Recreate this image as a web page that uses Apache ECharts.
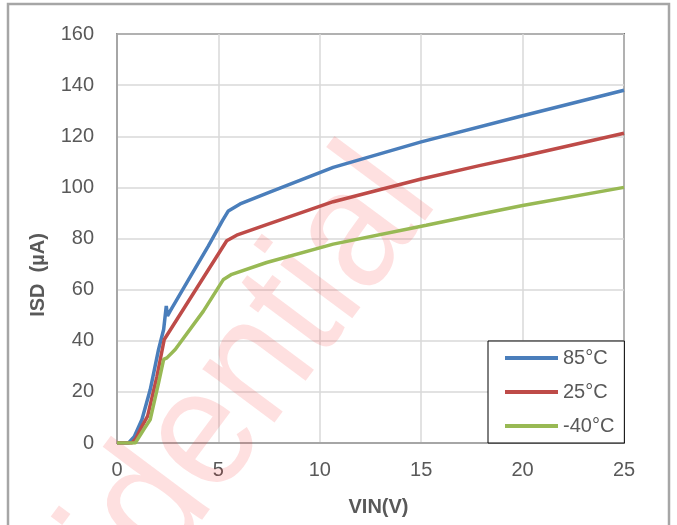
<!DOCTYPE html>
<html>
<head>
<meta charset="utf-8">
<script src="https://cdn.jsdelivr.net/npm/echarts@6/dist/echarts.min.js"></script>
<style>html,body{margin:0;padding:0;background:#fff;}#chart{width:677px;height:525px;}</style>
</head>
<body>
<div id="chart"></div>
<script>
// Series: VIN (V) and ISD (µA)
var vin85  = [0, 0.57, 0.85, 1.23, 1.64, 2.05, 2.3, 2.43, 2.49, 2.62, 3.5, 4.5, 5.2, 5.49, 6.07, 7.5, 10.66, 15, 20, 25];
var isd85  = [0, 0, 2.5, 9.2, 20.9, 36.6, 44.4, 53.6, 49.7, 51.6, 63.5, 77, 87, 90.8, 93.5, 98, 107.8, 117.8, 128, 138];
var vin25  = [0, 0.74, 0.95, 1.23, 1.51, 1.97, 2.33, 5.41, 5.9, 7.38, 10.66, 15, 17.87, 20, 25];
var isd25  = [0, 0, 2, 6.5, 10.5, 26.1, 40.5, 79.1, 81.3, 85.4, 94.4, 103.3, 108.5, 112.2, 121.2];
var vinM40 = [0, 0.9, 1.31, 1.64, 2.05, 2.3, 2.46, 2.87, 4.26, 5.25, 5.66, 7.38, 10.66, 15.25, 17.87, 20, 25];
var isdM40 = [0, 0, 5.2, 9.2, 23.5, 32.7, 33.3, 36.6, 51.6, 64, 66, 70.6, 77.8, 85.2, 89.5, 92.9, 100];
var seriesNames = ['85°C', '25°C', '-40°C'];
var seriesColors = ['#4a7ebb', '#be4b48', '#98b954'];
var xTicks = {min: 0, max: 25, interval: 5};
var yTicks = {min: 0, max: 160, interval: 20};
var xTitle = 'VIN(V)';
var yTitle = 'ISD  (µA)';
var watermark = 'Confidential';

function zip(xs, ys) { return xs.map(function (x, i) { return [x, ys[i]]; }); }
var allData = [zip(vin85, isd85), zip(vin25, isd25), zip(vinM40, isdM40)];

var FONT = "'Liberation Sans', Arial, sans-serif";
var chart = echarts.init(document.getElementById('chart'), null, {renderer: 'canvas'});
chart.setOption({
  animation: false,
  backgroundColor: '#fff',
  textStyle: {fontFamily: FONT},
  grid: {left: 117, top: 34, right: 53, bottom: 82, show: true, borderColor: '#000', borderWidth: 1.5, backgroundColor: 'transparent'},
  xAxis: {
    type: 'value', min: xTicks.min, max: xTicks.max, interval: xTicks.interval,
    name: xTitle, nameLocation: 'middle', nameGap: 54,
    nameTextStyle: {fontSize: 20, fontWeight: 'bold', color: '#595959', fontFamily: FONT, padding: [0, 0, 0, 16]},
    axisLine: {show: true, lineStyle: {color: '#a6a6a6', width: 2}},
    axisTick: {show: false},
    axisLabel: {fontSize: 20, color: '#595959', margin: 17, fontFamily: FONT},
    splitLine: {show: true, lineStyle: {color: '#d9d9d9', width: 1.5}}
  },
  yAxis: {
    type: 'value', min: yTicks.min, max: yTicks.max, interval: yTicks.interval,
    axisLine: {show: true, lineStyle: {color: '#a6a6a6', width: 2}},
    axisTick: {show: false},
    axisLabel: {fontSize: 20, color: '#595959', margin: 23, fontFamily: FONT},
    splitLine: {show: true, lineStyle: {color: '#d9d9d9', width: 1.5}}
  },
  legend: {
    orient: 'vertical', left: 488, top: 341,
    data: seriesNames,
    icon: 'rect', itemWidth: 53, itemHeight: 4, itemGap: 14,
    padding: [7, 10, 7, 17],
    borderColor: '#000', borderWidth: 1, backgroundColor: '#fff',
    textStyle: {fontSize: 20, color: '#595959', lineHeight: 20, fontFamily: FONT}
  },
  graphic: [
    {type: 'rect', z: 100, silent: true, shape: {x: 8, y: 4, width: 661, height: 540}, style: {fill: 'none', stroke: '#a6a6a6', lineWidth: 2.5}},
    {type: 'text', z: 1, silent: true, x: 470, y: 224, rotation: 0.93, scaleX: 0.92, scaleY: 1,
      style: {text: watermark, fill: 'rgba(245,50,50,0.15)', font: "170px 'Liberation Sans', sans-serif", textAlign: 'right', textVerticalAlign: 'bottom'}},
    {type: 'text', z: 10, silent: true, x: 38, y: 275, rotation: Math.PI / 2,
      style: {text: yTitle, fill: '#595959', font: "bold 20px 'Liberation Sans', Arial, sans-serif", textAlign: 'center', textVerticalAlign: 'middle'}}
  ],
  series: seriesNames.map(function (n, i) {
    return {
      name: n, type: 'line', data: allData[i], showSymbol: false, smooth: false,
      lineStyle: {color: seriesColors[i], width: 3.5}, itemStyle: {color: seriesColors[i]}, z: 3
    };
  })
});
</script>
</body>
</html>
